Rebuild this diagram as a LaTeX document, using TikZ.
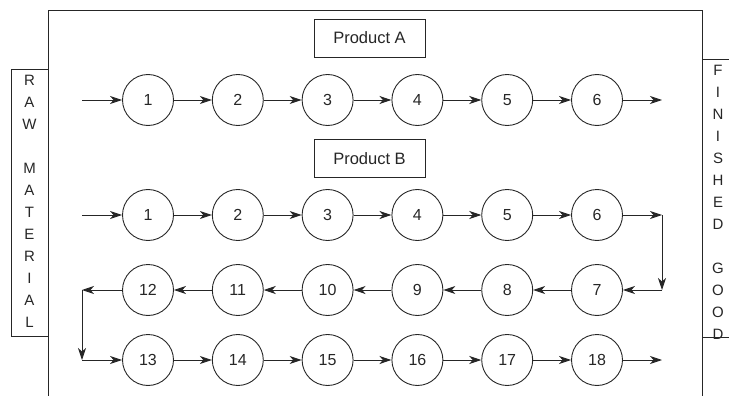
\documentclass[tikz,border=0pt]{standalone}
\usepackage{fontspec}
\setmainfont{Liberation Sans}
\usetikzlibrary{arrows.meta}
\begin{document}
\begin{tikzpicture}[x=1pt,y=-1pt,
  line width=0.9pt, color=black!85,
  station/.style={circle, draw, minimum size=51pt, inner sep=0pt,
    font=\fontsize{16}{18}\selectfont},
  labelbox/.style={draw, minimum width=111pt, minimum height=38pt,
    inner sep=0pt, font=\fontsize{16.5}{18}\selectfont},
  flow/.style={-{Stealth[length=12pt,width=8pt,inset=3.5pt]}},
  sidetext/.style={align=center, inner sep=0pt,
    font=\fontsize{15}{22}\selectfont}]
\useasboundingbox (0,0) rectangle (729,396);

% plant outline and the two side panels
\draw (48,396) -- (48,10) -- (702,10) -- (702,396);
\draw (11,69) rectangle (48,336);
\draw (729,59) -- (702,59);
\draw (702,337) -- (729,337);

\node[sidetext] (raw) at (29.5,201) {R\\A\\W\\[22pt]M\\A\\T\\E\\R\\I\\A\\L};
\node[sidetext] (fin) at (718,202) {F\\I\\N\\I\\S\\H\\E\\D\\[22pt]G\\O\\O\\D};

% product headings
\node[labelbox] (pa) at (369.5,38) {Product A};
\node[labelbox] (pb) at (369.5,158.5) {Product B};

% process stations
\foreach \i in {1,...,6} {
  \pgfmathsetmacro{\xx}{148+89.8*(\i-1)}
  \pgfmathtruncatemacro{\ret}{13-\i}
  \pgfmathtruncatemacro{\fwd}{12+\i}
  \node[station] (a\i) at (\xx,100) {\i};
  \node[station] (b\i) at (\xx,215) {\i};
  \node[station] (b\ret) at (\xx,290) {\ret};
  \node[station] (b\fwd) at (\xx,360) {\fwd};
}

% turning points of the flow
\coordinate (inA) at (82,100);
\coordinate (outA) at (662,100);
\coordinate (inB) at (82,215);
\coordinate (turnR1) at (662,215);
\coordinate (turnR2) at (662,290);
\coordinate (turnL1) at (82,290);
\coordinate (turnL2) at (82,360);
\coordinate (outB) at (662,360);

% product A line
\draw[flow] (inA) -- (a1);
\foreach \i in {1,...,5} {
  \pgfmathtruncatemacro{\nxt}{\i+1}
  \draw[flow] (a\i) -- (a\nxt);
}
\draw[flow] (a6) -- (outA);

% product B line
\draw[flow] (inB) -- (b1);
\foreach \i in {1,2,3,4,5,7,8,9,10,11,13,14,15,16,17} {
  \pgfmathtruncatemacro{\nxt}{\i+1}
  \draw[flow] (b\i) -- (b\nxt);
}
\draw[flow] (b6) -- (turnR1);
\draw[flow] (turnR1) -- (turnR2);
\draw[flow] (turnR2) -- (b7);
\draw[flow] (b12) -- (turnL1);
\draw[flow] (turnL1) -- (turnL2);
\draw[flow] (turnL2) -- (b13);
\draw[flow] (b18) -- (outB);
\end{tikzpicture}
\end{document}
